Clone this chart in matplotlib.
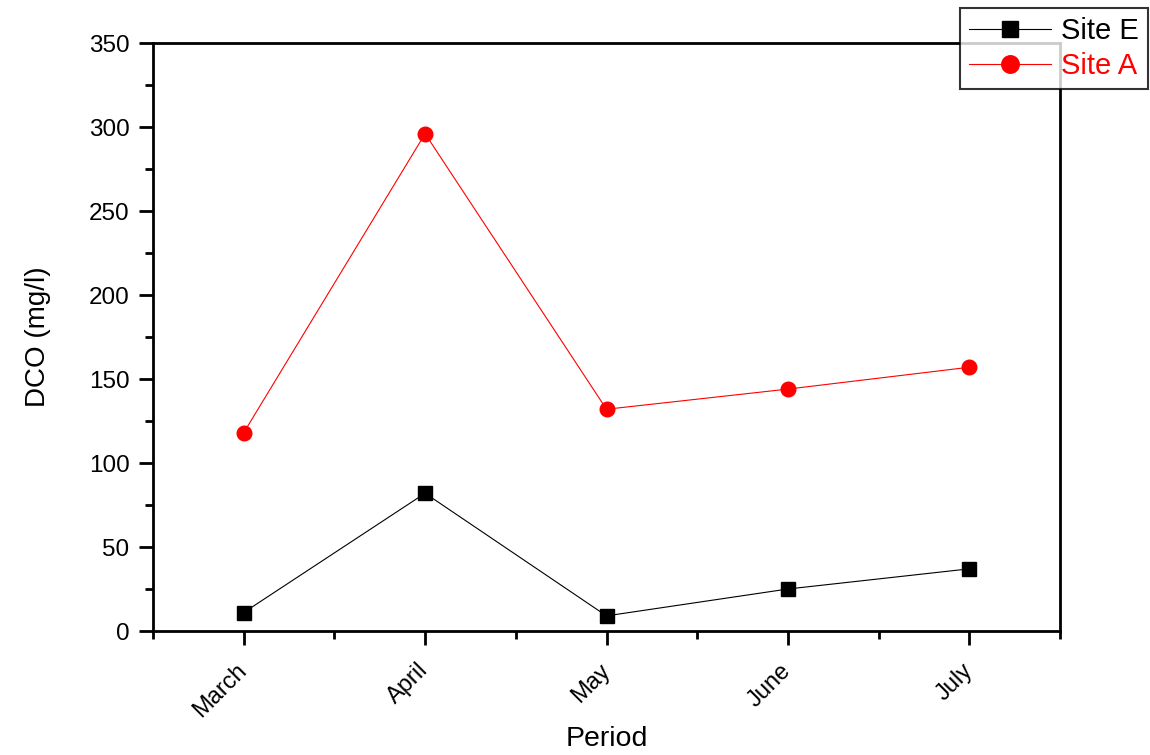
import matplotlib
matplotlib.use("Agg")
import matplotlib.pyplot as plt
from matplotlib.ticker import MultipleLocator, FixedLocator

plt.rcParams['font.family'] = ['Liberation Sans', 'DejaVu Sans']

months = ["March", "April", "May", "June", "July"]
site_e = [11, 82, 9, 25, 37]
site_a = [118, 296, 132, 144, 157]

fig = plt.figure(figsize=(11.5, 7.55), dpi=100)
ax = fig.add_axes([153/1150, 1-631/755, (1060-153)/1150, (631-43)/755])

x = list(range(len(months)))
ax.plot(x, site_e, color='black', lw=0.8, marker='s', ms=10, label='Site E')
ax.plot(x, site_a, color='red', lw=0.8, marker='o', ms=10.5, label='Site A')

ax.set_xlim(-0.5, len(months) - 0.5)
ax.set_ylim(0, 350)
ax.set_xticks(x)
ax.set_xticklabels(months, rotation=45, ha='right', va='center',
                   rotation_mode='anchor', fontsize=17)
ax.xaxis.set_minor_locator(FixedLocator([i + 0.5 for i in range(-1, len(months))]))
ax.yaxis.set_major_locator(MultipleLocator(50))
ax.yaxis.set_minor_locator(MultipleLocator(25))
ax.tick_params(axis='both', which='major', direction='out', length=10, width=2, labelsize=17.5)
ax.tick_params(axis='both', which='minor', direction='out', length=6, width=2)
ax.tick_params(axis='y', which='major', pad=7)
ax.tick_params(axis='x', which='major', pad=16, labelsize=17)
for s in ax.spines.values():
    s.set_linewidth(2)

ax.set_xlabel("Period", fontsize=20.5, labelpad=3)
ax.set_ylabel("DCO (mg/l)", fontsize=20, labelpad=27)

leg = fig.legend(loc='upper right', bbox_to_anchor=(1148/1150, 1-8/755),
                 fontsize=21, frameon=True, fancybox=False, edgecolor='black',
                 handlelength=2.8, borderpad=0.32, labelspacing=0.22, handletextpad=0.35,
                 borderaxespad=0, markerscale=1.2)
leg.get_frame().set_linewidth(1.5)
for t, c in zip(leg.get_texts(), ['black', 'red']):
    t.set_color(c)

fig.savefig("out.png", dpi=100)
